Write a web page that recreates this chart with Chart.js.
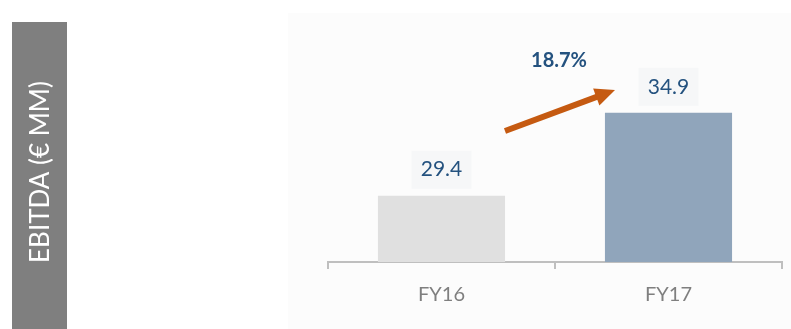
<!DOCTYPE html>
<html>
<head>
<meta charset="utf-8">
<script src="https://cdn.jsdelivr.net/npm/chart.js@4"></script>
<style>
  html, body { margin: 0; padding: 0; background: #ffffff; }
  #wrap { width: 791px; height: 329px; position: relative; }
</style>
</head>
<body>
<div id="wrap"><canvas id="ebitdaChart" width="791" height="329"></canvas></div>
<script>
// Data
const categories = ["FY16", "FY17"];
const ebitda = [29.4, 34.9];
const barColors = ["#e0e0e0", "#90a5bb"];
const axisTitle = "EBITDA (€ MM)";

const growth = ((ebitda[1] / ebitda[0]) - 1) * 100;
const FONT = "Lato, 'Open Sans', sans-serif";

// Background panels + side title
const backdrop = {
  id: "backdrop",
  beforeDraw(chart) {
    const ctx = chart.ctx;
    ctx.save();
    ctx.fillStyle = "#fcfcfc";
    ctx.fillRect(288, 13, 503, 316);
    ctx.fillStyle = "#7f7f7f";
    ctx.fillRect(12, 22, 55, 307);
    ctx.translate(41, 172);
    ctx.rotate(-Math.PI / 2);
    ctx.fillStyle = "#ffffff";
    ctx.font = "26px " + FONT;
    ctx.textAlign = "center";
    ctx.textBaseline = "middle";
    ctx.fillText(axisTitle, 0, 0);
    ctx.restore();
  }
};

// Value labels above bars, growth arrow
const annotations = {
  id: "annotations",
  afterDatasetsDraw(chart) {
    const ctx = chart.ctx;
    const meta = chart.getDatasetMeta(0);
    ctx.save();
    ctx.font = "21px " + FONT;
    ctx.textAlign = "center";
    ctx.textBaseline = "middle";
    meta.data.forEach((bar, i) => {
      const cy = bar.y - 26;
      ctx.fillStyle = "#f6f7f8";
      ctx.fillRect(bar.x - 30, cy - 19, 60, 38);
      ctx.fillStyle = "#24527f";
      ctx.fillText(ebitda[i].toFixed(1), bar.x, cy);
    });

    // arrow
    const x1 = 505, y1 = 131, x2 = 615, y2 = 90;
    const ang = Math.atan2(y2 - y1, x2 - x1);
    const headLen = 20;
    ctx.strokeStyle = "#c55a11";
    ctx.fillStyle = "#c55a11";
    ctx.lineWidth = 6;
    ctx.beginPath();
    ctx.moveTo(x1, y1);
    ctx.lineTo(x2 - headLen * 0.8 * Math.cos(ang), y2 - headLen * 0.8 * Math.sin(ang));
    ctx.stroke();
    ctx.beginPath();
    ctx.moveTo(x2, y2);
    ctx.lineTo(x2 - headLen * Math.cos(ang) + 9 * Math.sin(ang), y2 - headLen * Math.sin(ang) - 9 * Math.cos(ang));
    ctx.lineTo(x2 - headLen * Math.cos(ang) - 9 * Math.sin(ang), y2 - headLen * Math.sin(ang) + 9 * Math.cos(ang));
    ctx.closePath();
    ctx.fill();

    ctx.font = "bold 20px " + FONT;
    ctx.fillStyle = "#24527f";
    ctx.fillText(growth.toFixed(1) + "%", 559, 61);
    ctx.restore();
  }
};

new Chart(document.getElementById("ebitdaChart"), {
  type: "bar",
  data: {
    labels: categories,
    datasets: [{
      data: ebitda,
      backgroundColor: barColors,
      barPercentage: 0.56,
      categoryPercentage: 1.0
    }]
  },
  options: {
    responsive: false,
    animation: false,
    layout: { padding: { left: 328, right: 9, top: 36, bottom: 8 } },
    plugins: {
      legend: { display: false },
      tooltip: { enabled: false }
    },
    scales: {
      y: { display: false, min: 25, max: 40 },
      x: {
        grid: {
          offset: true,
          drawOnChartArea: false,
          drawTicks: true,
          tickLength: 7,
          color: "#bfbfbf",
          lineWidth: 2
        },
        border: { color: "#bfbfbf", width: 2 },
        ticks: {
          color: "#7f7f7f",
          padding: 14,
          font: { family: FONT, size: 20 }
        }
      }
    }
  },
  plugins: [backdrop, annotations]
});
</script>
</body>
</html>
